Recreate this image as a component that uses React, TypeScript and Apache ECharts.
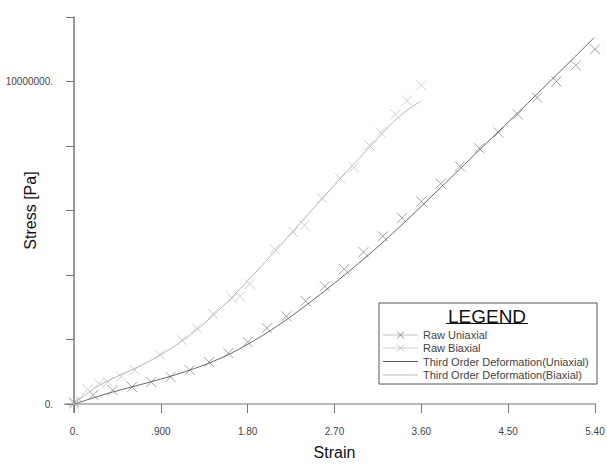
import React, { useEffect, useRef } from "react";
import * as echarts from "echarts";

const xTickLabels: Record<string, string> = {
  "0": "0.",
  "0.9": ".900",
  "1.8": "1.80",
  "2.7": "2.70",
  "3.6": "3.60",
  "4.5": "4.50",
  "5.4": "5.40",
};
const yTickLabels: Record<string, string> = {
  "0": "0.",
  "10000000": "10000000.",
};

const rawUniStrain = [0, 0.2, 0.4, 0.6, 0.8, 1.0, 1.2, 1.4, 1.6, 1.8, 2.0, 2.2, 2.4, 2.6, 2.8, 3.0, 3.2, 3.4, 3.6, 3.8, 4.0, 4.2, 4.4, 4.6, 4.8, 5.0, 5.2, 5.4];
const rawUniStress = [50000, 280000, 430000, 530000, 680000, 840000, 1050000, 1300000, 1580000, 1920000, 2350000, 2720000, 3190000, 3650000, 4180000, 4710000, 5200000, 5770000, 6280000, 6830000, 7370000, 7930000, 8420000, 8980000, 9500000, 10000000, 10500000, 11000000];

const rawBiStrain = [0, 0.05, 0.14, 0.26, 0.35, 0.49, 0.63, 0.89, 1.12, 1.27, 1.44, 1.64, 1.72, 1.82, 2.08, 2.27, 2.39, 2.57, 2.76, 2.9, 3.06, 3.18, 3.33, 3.45, 3.6];
const rawBiStress = [0, 150000, 450000, 640000, 680000, 850000, 1050000, 1530000, 1980000, 2360000, 2790000, 3280000, 3340000, 3720000, 4800000, 5330000, 5540000, 6380000, 7000000, 7340000, 8020000, 8420000, 8980000, 9410000, 9880000];

const fitUniStrain = [0, 0.2, 0.4, 0.6, 0.8, 1.0, 1.2, 1.4, 1.6, 1.8, 2.0, 2.2, 2.4, 2.6, 2.8, 3.0, 3.2, 3.4, 3.6, 3.8, 4.0, 4.2, 4.4, 4.6, 4.8, 5.0, 5.2, 5.39];
const fitUniStress = [0, 190000, 370000, 530000, 690000, 860000, 1050000, 1270000, 1530000, 1850000, 2210000, 2610000, 3050000, 3510000, 3990000, 4490000, 5010000, 5560000, 6130000, 6710000, 7290000, 7870000, 8450000, 9030000, 9610000, 10200000, 10790000, 11360000];

const fitBiStrain = [0, 0.15, 0.3, 0.45, 0.6, 0.75, 0.9, 1.05, 1.2, 1.35, 1.5, 1.65, 1.8, 1.95, 2.1, 2.25, 2.4, 2.55, 2.7, 2.85, 3.0, 3.15, 3.3, 3.45, 3.59];
const fitBiStress = [0, 360000, 640000, 860000, 1060000, 1280000, 1530000, 1810000, 2130000, 2500000, 2910000, 3350000, 3820000, 4300000, 4790000, 5290000, 5790000, 6290000, 6790000, 7280000, 7760000, 8240000, 8720000, 9100000, 9390000];

const legendNames = ["Raw Uniaxial", "Raw Biaxial", "Third Order Deformation(Uniaxial)", "Third Order Deformation(Biaxial)"];

const zip = (a: number[], b: number[]) => a.map((v, i) => [v, b[i]]);

const CROSS = "path://M0 0L10 10M10 0L0 10";
const FONT = "Liberation Sans, Arial, sans-serif";

export default function App() {
  const ref = useRef<HTMLDivElement>(null);
  useEffect(() => {
    if (!ref.current) return;
    const chart = echarts.init(ref.current, null, { renderer: "svg" });

    const rowY = [335, 348, 361.5, 375];
    const legendStyles = [
      { line: "#c4c4c4", cross: "#8a8a8a" },
      { line: "#cfcfcf", cross: "#c0c0c0" },
      { line: "#555555", cross: null },
      { line: "#bdbdbd", cross: null },
    ];
    const legendGraphics: any[] = [
      {
        type: "rect",
        shape: { x: 379, y: 303, width: 218, height: 81 },
        style: { fill: "#fff", stroke: "#555", lineWidth: 1 },
        z: 10,
      },
      {
        type: "text",
        x: 487,
        y: 316,
        style: { text: "LEGEND", font: `19px ${FONT}`, fill: "#111", align: "center", verticalAlign: "middle" },
        z: 11,
      },
      {
        type: "line",
        shape: { x1: 446, y1: 323.5, x2: 528, y2: 323.5 },
        style: { stroke: "#111", lineWidth: 1 },
        z: 11,
      },
    ];
    legendNames.forEach((name, i) => {
      const y = rowY[i];
      const st = legendStyles[i];
      legendGraphics.push({
        type: "line",
        shape: { x1: 383, y1: y, x2: 418, y2: y },
        style: { stroke: st.line, lineWidth: 1 },
        z: 11,
      });
      if (st.cross) {
        legendGraphics.push({
          type: "polyline",
          shape: { points: [[397, y - 3.5], [404, y + 3.5]] },
          style: { stroke: st.cross, lineWidth: 1, fill: "none" },
          z: 12,
        });
        legendGraphics.push({
          type: "polyline",
          shape: { points: [[404, y - 3.5], [397, y + 3.5]] },
          style: { stroke: st.cross, lineWidth: 1, fill: "none" },
          z: 12,
        });
      }
      legendGraphics.push({
        type: "text",
        x: 423,
        y: y,
        style: { text: name, font: `11px ${FONT}`, fill: "#444", verticalAlign: "middle" },
        z: 11,
      });
    });

    chart.setOption({
      animation: false,
      backgroundColor: "#fff",
      grid: { left: 74, right: 12, top: 17, bottom: 60, containLabel: false, outerBoundsMode: "none" },
      xAxis: {
        type: "value",
        min: 0,
        max: 5.4,
        interval: 0.9,
        name: "Strain",
        nameLocation: "middle",
        nameGap: 40,
        nameMoveOverlap: false,
        nameTextStyle: { fontFamily: FONT, fontSize: 16, color: "#111" },
        axisLine: { show: true, onZero: false, lineStyle: { color: "#b8b8b8", width: 2 } },
        axisTick: { show: true, length: 9, lineStyle: { color: "#777", width: 1 } },
        axisLabel: {
          margin: 22,
          fontFamily: FONT,
          fontSize: 10,
          color: "#444",
          showMaxLabel: true,
          formatter: (v: number) => xTickLabels[String(Math.round(v * 10) / 10)] ?? "",
        },
        splitLine: { show: false },
      },
      yAxis: {
        type: "value",
        min: 0,
        max: 12000000,
        interval: 2000000,
        name: "Stress [Pa]",
        nameLocation: "middle",
        nameGap: 36,
        nameMoveOverlap: false,
        nameTextStyle: { fontFamily: FONT, fontSize: 16, color: "#111" },
        axisLine: { show: true, onZero: false, lineStyle: { color: "#777", width: 1.5 } },
        axisTick: { show: true, length: 8, lineStyle: { color: "#777", width: 1 } },
        axisLabel: {
          margin: 21,
          fontFamily: FONT,
          fontSize: 10,
          color: "#444",
          formatter: (v: number) => yTickLabels[String(v)] ?? "",
        },
        splitLine: { show: false },
      },
      graphic: [
        {
          type: "line",
          shape: { x1: 64, y1: 404, x2: 74, y2: 404 },
          style: { stroke: "#b8b8b8", lineWidth: 2 },
        },
        {
          type: "line",
          shape: { x1: 74, y1: 404, x2: 74, y2: 413 },
          style: { stroke: "#777", lineWidth: 1.5 },
        },
        ...legendGraphics,
      ],
      series: [
        {
          name: legendNames[0],
          type: "scatter",
          data: zip(rawUniStrain, rawUniStress),
          symbol: CROSS,
          symbolSize: 10,
          itemStyle: { color: "none", borderColor: "#8a8a8a", borderWidth: 1 },
          z: 2,
        },
        {
          name: legendNames[1],
          type: "scatter",
          data: zip(rawBiStrain, rawBiStress),
          symbol: CROSS,
          symbolSize: 10,
          itemStyle: { color: "none", borderColor: "#c4c4c4", borderWidth: 1 },
          z: 2,
        },
        {
          name: legendNames[2],
          type: "line",
          data: zip(fitUniStrain, fitUniStress),
          smooth: 0.3,
          showSymbol: false,
          lineStyle: { color: "#666", width: 1 },
          z: 3,
        },
        {
          name: legendNames[3],
          type: "line",
          data: zip(fitBiStrain, fitBiStress),
          smooth: 0.3,
          showSymbol: false,
          lineStyle: { color: "#b5b5b5", width: 1 },
          z: 3,
        },
      ],
    });
    return () => chart.dispose();
  }, []);
  return (
    <div
      ref={ref}
      style={{ position: "fixed", left: 0, top: 0, width: 607, height: 464, background: "#fff" }}
    />
  );
}
